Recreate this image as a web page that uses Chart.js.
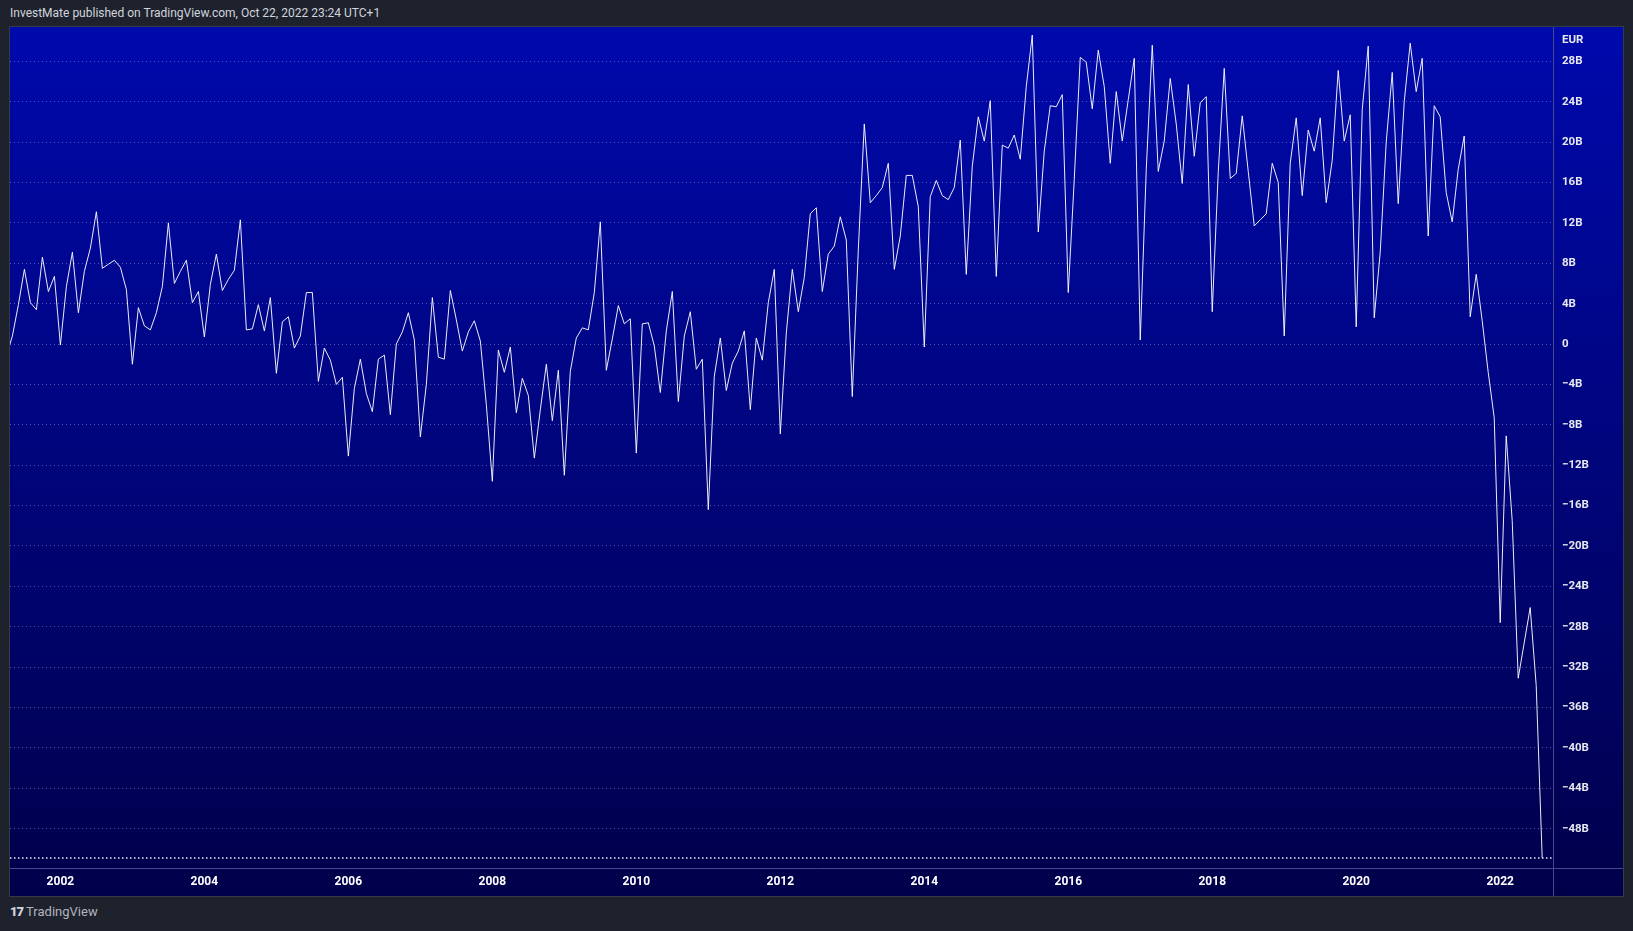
<!DOCTYPE html>
<html>
<head>
<meta charset="utf-8">
<title>Bilancia commerciale</title>
<script src="https://cdn.jsdelivr.net/npm/chart.js@4.4.0/dist/chart.umd.min.js"></script>
<style>
    body { margin: 0; background: #1e222d; width: 1633px; height: 931px; overflow: hidden; font-family: Roboto, sans-serif; }
    #titolo { position: absolute; left: 10px; top: 6px; font-size: 12px; color: #d1d4dc; white-space: nowrap; }
    #box { position: absolute; left: 9px; top: 26px; width: 1615px; height: 871px; border: 1px solid #363a45; box-sizing: border-box; }
    #grafico { display: block; }
    #logo { position: absolute; left: 10px; top: 904px; font-size: 13px; color: #b2b5be; white-space: nowrap; }
    #logo b { font-weight: 900; letter-spacing: -1px; margin-right: 3px; color: #d1d4dc; }
</style>
</head>
<body>
<div id="titolo">InvestMate published on TradingView.com, Oct 22, 2022 23:24 UTC+1</div>
<div id="box"><canvas id="grafico" width="1613" height="869"></canvas></div>
<div id="logo"><b>17</b>TradingView</div>

<script>
// primo mese della serie (anno, mese)
var primoAnno = 2001;
var primoMese = 4;

// saldo mensile in miliardi di EUR, da aprile 2001 ad agosto 2022
var saldo2001 = [-1.2, 0.8, 3.9, 7.4, 4.1, 3.4, 8.6, 5.2, 6.7];
var saldo2002 = [-0.1, 5.7, 9.1, 3.1, 7.2, 9.5, 13.1, 7.5, 7.9, 8.3, 7.6, 5.4];
var saldo2003 = [-2.0, 3.6, 1.8, 1.4, 3.1, 5.7, 12.0, 6.0, 7.2, 8.3, 4.1, 5.2];
var saldo2004 = [0.7, 5.9, 8.9, 5.3, 6.4, 7.3, 12.3, 1.4, 1.5, 3.9, 1.3, 4.6];
var saldo2005 = [-2.9, 2.2, 2.7, -0.4, 0.8, 5.1, 5.1, -3.7, -0.4, -1.6, -4.0, -3.3];
var saldo2006 = [-11.1, -4.4, -1.5, -4.9, -6.7, -1.5, -1.1, -7.0, 0.0, 1.2, 3.1, 0.4];
var saldo2007 = [-9.2, -4.0, 4.6, -1.3, -1.5, 5.3, 2.4, -0.7, 1.2, 2.3, 0.3, -6.0];
var saldo2008 = [-13.6, -0.6, -2.8, -0.3, -6.8, -3.4, -5.1, -11.3, -6.5, -2.0, -7.6, -2.6];
var saldo2009 = [-13.0, -2.7, 0.6, 1.6, 1.4, 5.1, 12.1, -2.6, 0.5, 3.8, 2.0, 2.5];
var saldo2010 = [-10.8, 2.0, 2.1, -0.2, -4.8, 1.3, 5.2, -5.7, 0.8, 3.2, -2.5, -1.5];
var saldo2011 = [-16.4, -3.2, 0.6, -4.6, -1.9, -0.7, 1.3, -6.5, 0.6, -1.6, 4.1, 7.4];
var saldo2012 = [-8.9, 1.1, 7.4, 3.2, 6.6, 12.9, 13.5, 5.2, 8.9, 9.7, 12.6, 10.3];
var saldo2013 = [-5.2, 9.3, 21.8, 14.0, 14.7, 15.5, 17.9, 7.4, 10.7, 16.7, 16.7, 13.6];
var saldo2014 = [-0.3, 14.6, 16.2, 14.7, 14.3, 15.5, 20.2, 6.9, 17.6, 22.5, 20.1, 24.1];
var saldo2015 = [6.7, 19.7, 19.4, 20.7, 18.3, 25.5, 30.6, 11.1, 19.1, 23.6, 23.5, 24.7];
var saldo2016 = [5.1, 16.3, 28.4, 27.9, 23.3, 29.1, 25.5, 17.9, 25.0, 20.1, 24.2, 28.3];
var saldo2017 = [0.4, 17.3, 29.6, 17.1, 20.1, 26.3, 21.8, 15.9, 25.7, 18.6, 23.9, 24.5];
var saldo2018 = [3.2, 17.0, 27.3, 16.4, 16.9, 22.6, 17.1, 11.7, 12.3, 12.9, 17.9, 16.0];
var saldo2019 = [0.8, 17.9, 22.4, 14.7, 21.2, 19.1, 22.4, 14.0, 18.2, 27.1, 20.1, 22.7];
var saldo2020 = [1.7, 23.2, 29.5, 2.6, 9.1, 20.0, 26.9, 13.9, 24.0, 29.8, 25.0, 28.3];
var saldo2021 = [10.7, 23.6, 22.5, 15.0, 12.1, 17.3, 20.6, 2.7, 6.9, 2.3, -2.8, -7.3];
var saldo2022 = [-27.6, -9.1, -17.5, -33.1, -29.6, -26.1, -33.8, -50.9];

// etichette dell'asse dei tempi
var anniAsse = ['2002', '2004', '2006', '2008', '2010', '2012', '2014', '2016', '2018', '2020', '2022'];
var unitaAsse = 'EUR';

var saldo = [].concat(saldo2001, saldo2002, saldo2003, saldo2004, saldo2005, saldo2006, saldo2007,
    saldo2008, saldo2009, saldo2010, saldo2011, saldo2012, saldo2013, saldo2014, saldo2015,
    saldo2016, saldo2017, saldo2018, saldo2019, saldo2020, saldo2021, saldo2022);

// creo le etichette mese per mese
var mesi = [];
for (var i = 0; i < saldo.length; i++) {
    var m = primoMese - 1 + i;
    var anno = primoAnno + Math.floor(m / 12);
    var mese = (m % 12) + 1;
    mesi.push(anno + '-' + (mese < 10 ? '0' + mese : mese));
}

var punti = [];
for (var i = 0; i < saldo.length; i++) {
    punti.push({ x: i, y: saldo[i] });
}

// sfondo sfumato blu
var sfondo = {
    id: 'sfondo',
    beforeDraw: function(chart) {
        var c = chart.ctx;
        var g = c.createLinearGradient(0, 0, 0, chart.height);
        g.addColorStop(0, 'rgb(0, 9, 172)');
        g.addColorStop(1, 'rgb(0, 0, 74)');
        c.save();
        c.fillStyle = g;
        c.fillRect(0, 0, chart.width, chart.height);
        c.restore();
    }
};

// separatori degli assi, linea dell'ultimo valore e unità
var rifiniture = {
    id: 'rifiniture',
    afterDraw: function(chart) {
        var c = chart.ctx;
        var area = chart.chartArea;
        var yUltimo = chart.scales.y.getPixelForValue(saldo[saldo.length - 1]);
        c.save();
        c.strokeStyle = 'rgba(255, 255, 255, 0.95)';
        c.lineWidth = 1.5;
        c.setLineDash([1.5, 2.5]);
        c.beginPath();
        c.moveTo(area.left, yUltimo);
        c.lineTo(area.right, yUltimo);
        c.stroke();

        c.setLineDash([]);
        c.lineWidth = 1;
        c.strokeStyle = 'rgb(70, 74, 140)';
        c.beginPath();
        c.moveTo(area.right + 0.5, 0);
        c.lineTo(area.right + 0.5, chart.height);
        c.moveTo(0, area.bottom + 0.5);
        c.lineTo(chart.width, area.bottom + 0.5);
        c.stroke();

        c.fillStyle = '#e6e8ef';
        c.font = 'bold 11.5px Roboto';
        c.textBaseline = 'middle';
        c.fillText(unitaAsse, area.right + 9, 13);
        c.restore();
    }
};

function etichettaValore(v) {
    if (v === 0) {
        return '0';
    }
    return (v < 0 ? '\u2212' : '') + Math.abs(v) + 'B';
}

var ctx = document.getElementById('grafico');
var chart = new Chart(ctx, {
    type: 'line',
    data: {
        datasets: [{
            label: 'saldo',
            data: punti,
            borderColor: 'rgba(255, 255, 255, 0.92)',
            borderWidth: 1,
            pointRadius: 0,
            tension: 0
        }]
    },
    options: {
        responsive: false,
        animation: false,
        layout: { padding: 0 },
        plugins: {
            legend: { display: false },
            tooltip: { enabled: false }
        },
        scales: {
            x: {
                type: 'linear',
                min: 0.6,
                max: 257.8,
                grid: { display: false, drawTicks: false },
                border: { display: false },
                afterBuildTicks: function(scale) {
                    scale.ticks = anniAsse.map(function(a) {
                        return { value: mesi.indexOf(a + '-01') };
                    });
                },
                afterFit: function(scale) {
                    scale.height = 28;
                    scale.paddingLeft = 0;
                    scale.paddingRight = 0;
                },
                ticks: {
                    autoSkip: false,
                    maxRotation: 0,
                    padding: 7,
                    color: '#ffffff',
                    font: { family: 'Roboto', size: 12, weight: 'bold' },
                    callback: function(v) {
                        return mesi[v].slice(0, 4);
                    }
                }
            },
            y: {
                position: 'right',
                min: -51.9,
                max: 31.4,
                afterFit: function(scale) {
                    scale.width = 70;
                    scale.paddingTop = 0;
                    scale.paddingBottom = 0;
                },
                grid: { color: 'rgba(140, 150, 215, 0.55)', lineWidth: 1, drawTicks: false },
                border: { display: false, dash: [1, 3] },
                ticks: {
                    stepSize: 4,
                    includeBounds: false,
                    padding: 9,
                    color: '#e6e8ef',
                    font: { family: 'Roboto', size: 11.5, weight: 'bold' },
                    callback: etichettaValore
                }
            }
        }
    },
    plugins: [sfondo, rifiniture]
});
</script>
</body>
</html>
